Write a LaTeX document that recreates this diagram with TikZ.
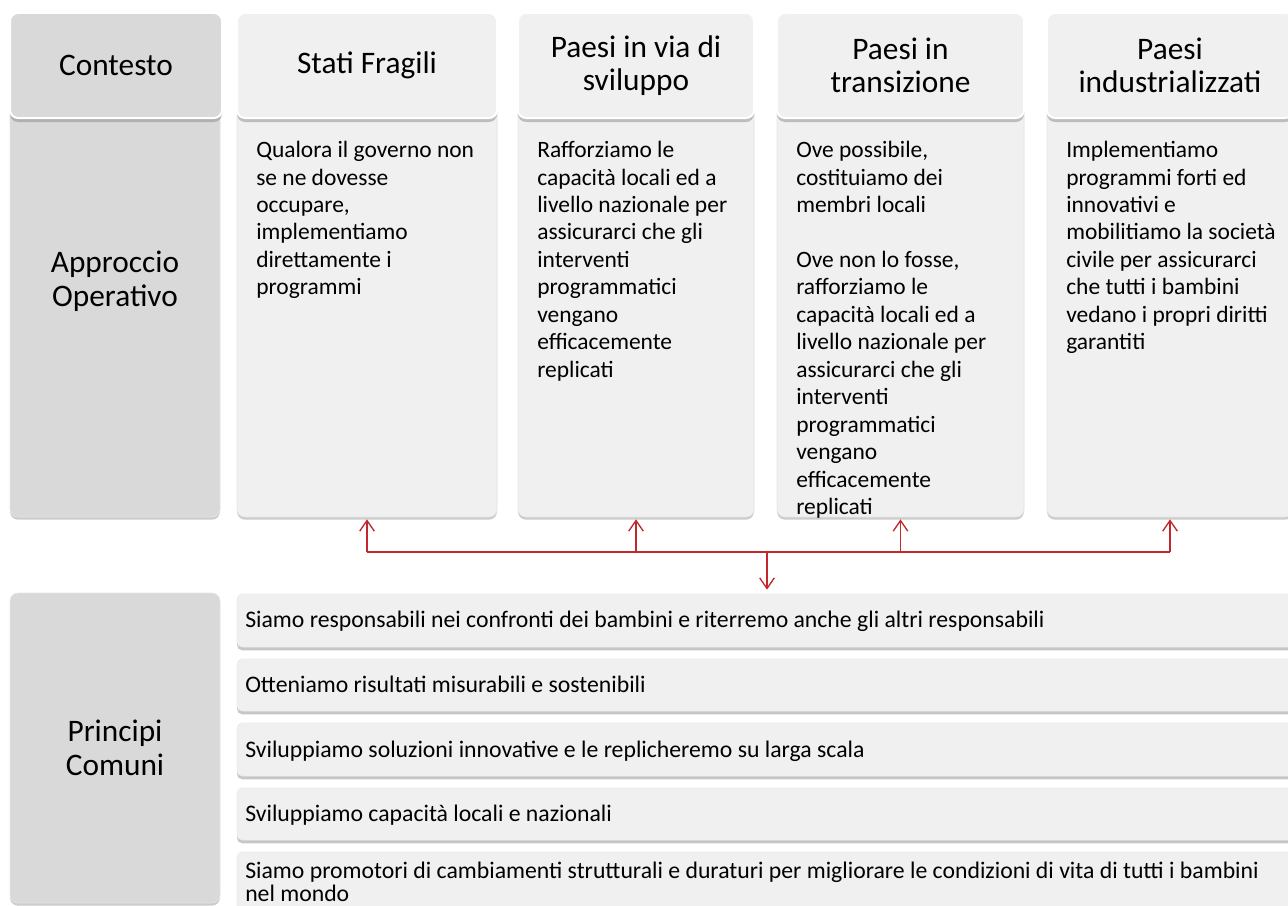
\documentclass[tikz,border=0pt]{standalone}
\usepackage{fontspec}
\setmainfont{Carlito}
\usetikzlibrary{shadows,arrows.meta,fit}
\definecolor{colfill}{HTML}{F0F0F0}
\definecolor{darkfill}{HTML}{D9D9D9}
\definecolor{arrowred}{RGB}{192,40,46}
\newcommand\hdfont{\fontsize{23.5pt}{25pt}\selectfont}
\newcommand\bdfont{\fontsize{17.6pt}{20.6pt}\selectfont}
\newcommand\mybarfont{\fontsize{17.8pt}{16.8pt}\selectfont}
\begin{document}
\begin{tikzpicture}[x=0.75pt,y=-0.75pt,
  colbody/.style={rounded corners=6pt, fill=colfill, draw=black!10, line width=0.5pt, inner sep=0pt,
    drop shadow={shadow xshift=0pt,shadow yshift=-2pt,opacity=0.4}},
  darkbody/.style={colbody, fill=darkfill},
  headbox/.style={rounded corners=6pt, fill=colfill, draw=white, line width=1.5pt, inner sep=0pt,
    align=center, font=\hdfont,
    drop shadow={shadow xshift=0pt,shadow yshift=-3pt,opacity=0.45}},
  darkhead/.style={headbox, fill=darkfill},
  bodytext/.style={anchor=north west, inner sep=0pt, align=left, font=\bdfont},
  sidetext/.style={align=center, inner sep=0pt, font=\fontsize{23.5pt}{25.5pt}\selectfont},
  barbox/.style={rounded corners=4pt, fill=colfill, draw=black!8, line width=0.5pt, inner sep=0pt,
    drop shadow={shadow xshift=0pt,shadow yshift=-2.5pt,opacity=0.45}},
  bartext/.style={anchor=base west, inner sep=0pt, align=left, font=\mybarfont},
  redline/.style={draw=arrowred, line width=1pt},
  redarrow/.style={redline, -{Straight Barb[length=8pt,width=11pt]}}
]
\useasboundingbox (0,0) rectangle (1288,906);
\clip (0,0) rectangle (1288,906);

% column bodies
\node[darkbody, fit={(10,40) (220,517)}] (bctx) {};
\node[colbody, fit={(237,40) (497,517)}] (b1) {};
\node[colbody, fit={(518,40) (754,517)}] (b2) {};
\node[colbody, fit={(777,40) (1024,517)}] (b3) {};
\node[colbody, fit={(1047,40) (1293,517)}] (b4) {};

% headers
\node[darkhead, fit={(10,13) (222,118)}] (hctx) {};
\node[font=\hdfont] (thctx) at (hctx.center) {Contesto};
\node[headbox, fit={(237,13) (497,118)}] (h1) {};
\node[font=\hdfont] (th1) at (h1.center) {Stati Fragili};
\node[headbox, fit={(518,13) (754,118)}] (h2) {};
\node[font=\hdfont, align=center] (th2) at (h2.center) {Paesi in via di\\sviluppo};
\node[headbox, fit={(777,13) (1024,118)}] (h3) {};
\node[font=\hdfont, align=center] (th3) at (h3.center) {Paesi in\\transizione};
\node[headbox, fit={(1047,13) (1293,118)}] (h4) {};
\node[font=\hdfont, align=center] (th4) at (h4.center) {Paesi\\industrializzati};

% side label
\node[sidetext] (tapp) at (115,281) {Approccio\\Operativo};

% body texts
\node[bodytext] (t1) at (256,141) {Qualora il governo non\\se ne dovesse\\occupare,\\implementiamo\\direttamente i\\programmi};
\node[bodytext] (t2) at (537,141) {Rafforziamo le\\capacità locali ed a\\livello nazionale per\\assicurarci che gli\\interventi\\programmatici\\vengano\\efficacemente\\replicati};
\node[bodytext] (t3) at (796,141) {Ove possibile,\\costituiamo dei\\membri locali\\[20.6pt]Ove non lo fosse,\\rafforziamo le\\capacità locali ed a\\livello nazionale per\\assicurarci che gli\\interventi\\programmatici\\vengano\\efficacemente\\replicati};
\node[bodytext] (t4) at (1066,141) {Implementiamo\\programmi forti ed\\innovativi e\\mobilitiamo la società\\civile per assicurarci\\che tutti i bambini\\vedano i propri diritti\\garantiti};

% principles
\node[darkbody, fit={(10,593) (220,903)}] (pctx) {};
\node[sidetext] (tpc) at (115,748) {Principi\\Comuni};

\node[barbox, fit={(237,594) (1310,647)}] (p1) {};
\node[barbox, fit={(237,659) (1310,711)}] (p2) {};
\node[barbox, fit={(237,723) (1310,776)}] (p3) {};
\node[barbox, fit={(237,788) (1310,840)}] (p4) {};
\node[barbox, fit={(237,852) (1310,920)}] (p5) {};

\node[bartext] (tp1) at (245,627) {Siamo responsabili nei confronti dei bambini e riterremo anche gli altri responsabili};
\node[bartext] (tp2) at (245,692) {Otteniamo risultati misurabili e sostenibili};
\node[bartext] (tp3) at (245,757) {Sviluppiamo soluzioni innovative e le replicheremo su larga scala};
\node[bartext] (tp4) at (245,821) {Sviluppiamo capacità locali e nazionali};
\node[anchor=north west, inner sep=0pt, align=left, font=\mybarfont] (tp5) at (245,862) {Siamo promotori di cambiamenti strutturali e duraturi per migliorare le condizioni di vita di tutti i bambini\\nel mondo};

% connectors
\coordinate (hub) at (767,552);
\draw[redline] (hub -| b1.south) -- (hub -| b4.south);
\draw[redarrow] (hub -| b1.south) -- ([yshift=-1.5pt]b1.south);
\draw[redarrow] (hub -| b2.south) -- ([yshift=-1.5pt]b2.south);
\draw[redarrow] (hub -| b3.south) -- ([yshift=-1.5pt]b3.south);
\draw[redarrow] (hub -| b4.south) -- ([yshift=-1.5pt]b4.south);
\draw[redarrow] (hub) -- ([yshift=3pt]p1.north -| hub);
\end{tikzpicture}
\end{document}
